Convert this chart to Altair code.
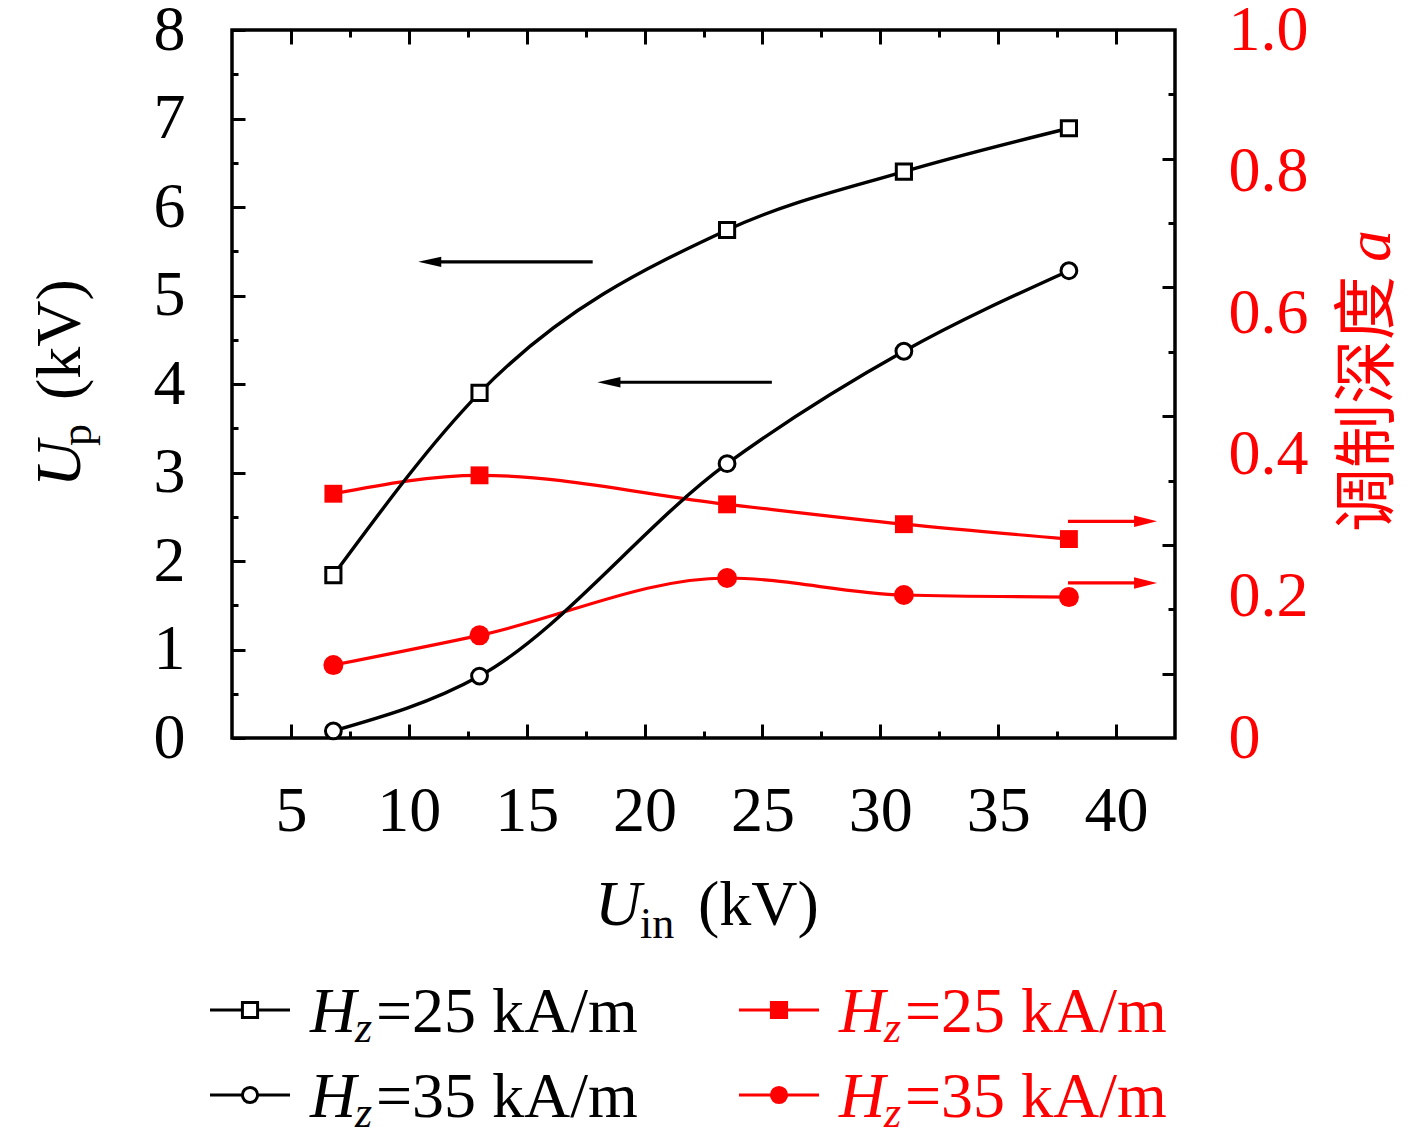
import altair as alt
import pandas as pd

# ---------------- data ----------------
u_in = [6.8, 13.0, 23.5, 31.0, 38.0]                 # U_in (kV)
up_hz25 = [1.84, 3.90, 5.74, 6.40, 6.89]             # U_p (kV), Hz = 25 kA/m
up_hz35 = [0.08, 0.70, 3.10, 4.37, 5.28]             # U_p (kV), Hz = 35 kA/m
depth_hz25 = [0.345, 0.371, 0.330, 0.302, 0.281]     # modulation depth a, Hz = 25
depth_hz35 = [0.103, 0.145, 0.226, 0.202, 0.199]     # modulation depth a, Hz = 35
hz_values = ["25", "35"]
legend_texts = ["=25 kA/m", "=35 kA/m"]

x_tick_values = [5, 7.5, 10, 12.5, 15, 17.5, 20, 22.5, 25, 27.5, 30, 32.5, 35, 37.5, 40]
left_tick_values = [0, 0.5, 1, 1.5, 2, 2.5, 3, 3.5, 4, 4.5, 5, 5.5, 6, 6.5, 7, 7.5, 8]
right_label_values = [0, 0.2, 0.4, 0.6, 0.8, 1.0]
right_tick_values = [0.0909, 0.1818, 0.2727, 0.3636, 0.4545,
                     0.5455, 0.6364, 0.7273, 0.8182, 0.9091]

black_arrow_y = [5.38, 4.02]
black_arrow_tail = [17.8, 25.4]
black_arrow_tip = [10.4, 18.0]
red_arrow_y = [0.306, 0.219]
red_arrow_tail = [37.96, 37.96]
red_arrow_tip = [41.74, 41.74]

# ---------------- tables ----------------
black_df = pd.DataFrame({"u": u_in * 2, "v": up_hz25 + up_hz35,
                         "hz": [hz_values[0]] * 5 + [hz_values[1]] * 5})
red_df = pd.DataFrame({"u": u_in * 2, "v": depth_hz25 + depth_hz35,
                       "hz": [hz_values[0]] * 5 + [hz_values[1]] * 5})
black_arrows = pd.DataFrame({"y": black_arrow_y, "tail": black_arrow_tail, "tip": black_arrow_tip})
red_arrows = pd.DataFrame({"y": red_arrow_y, "tail": red_arrow_tail, "tip": red_arrow_tip})
legend_df = pd.DataFrame({"col": [0, 0, 1, 1], "row": [0, 1, 0, 1],
                          "label": legend_texts * 2})

SERIF = "Liberation Serif"
CJK = "Noto Sans CJK SC"
RED = "#ff0000"
FS = 64
SUB = 44

bottom_axis = alt.Axis(values=x_tick_values, orient="bottom", domain=False, grid=False,
                       tickColor="black", tickWidth=3,
                       tickSize=alt.ExprRef(expr="datum.value % 5 === 0 ? -14 : -7"),
                       labelExpr="datum.value % 5 === 0 ? format(datum.value, 'd') : ''",
                       labelFont=SERIF, labelFontSize=FS, labelColor="black",
                       labelPadding=55, labelFlush=False, labelOverlap=False, title=None)
left_axis = alt.Axis(values=left_tick_values, orient="left", domain=False, grid=False,
                     tickColor="black", tickWidth=3,
                     tickSize=alt.ExprRef(expr="datum.value % 1 === 0 ? -13 : -6"),
                     labelExpr="datum.value % 1 === 0 ? format(datum.value, 'd') : ''",
                     labelFont=SERIF, labelFontSize=FS, labelColor="black",
                     labelPadding=60, labelFlush=False, labelOverlap=False, title=None)
right_axis = alt.Axis(values=right_label_values, orient="right", domain=False, grid=False,
                      ticks=False,
                      labelExpr="datum.value === 0 ? '0' : format(datum.value, '.1f')",
                      labelFont=SERIF, labelFontSize=FS, labelColor=RED,
                      labelPadding=53, labelFlush=False, labelOverlap=False, title=None)
right_tick_axis = alt.Axis(values=right_tick_values, orient="right", domain=False, grid=False,
                           labels=False, tickColor="black", tickWidth=3,
                           tickSize=alt.ExprRef(expr="round(datum.value * 11) % 2 === 1 ? -13 : -7"),
                           title=None)
top_axis = alt.Axis(values=x_tick_values, orient="top", domain=False, grid=False,
                    labels=False, tickColor="black", tickWidth=3,
                    tickSize=alt.ExprRef(expr="datum.value % 5 === 0 ? -14 : -7"),
                    title=None)


def xq(field, axis=None):
    return alt.X(f"{field}:Q", scale=alt.Scale(domain=[2.5, 42.5], nice=False, zero=False), axis=axis)


def yl(field, axis=None):
    return alt.Y(f"{field}:Q", scale=alt.Scale(domain=[0, 8], nice=False, zero=False), axis=axis)


def yr(field, axis=None):
    return alt.Y(f"{field}:Q", scale=alt.Scale(domain=[0, 1], nice=False, zero=False), axis=axis)


is25 = "datum.hz == '25'"

# ---------------- black series (left axis) ----------------
b_lines = alt.Chart(black_df).mark_line(interpolate="monotone", color="black", strokeWidth=3.4).encode(
    x=xq("u", bottom_axis), y=yl("v", left_axis), detail="hz:N")
b_points = alt.Chart(black_df).mark_point(filled=True, fill="white", stroke="black",
                                          strokeWidth=3, opacity=1).encode(
    x=xq("u", bottom_axis), y=yl("v", left_axis),
    shape=alt.condition(is25, alt.value("square"), alt.value("circle")),
    size=alt.condition(is25, alt.value(230), alt.value(250)))
b_arrow_lines = alt.Chart(black_arrows).mark_rule(color="black", strokeWidth=3.2, x2Offset=10).encode(
    x=xq("tail", bottom_axis), x2=alt.X2("tip:Q"), y=yl("y", left_axis))
b_arrow_heads = alt.Chart(black_arrows).mark_point(shape="M-1,0L1,-0.45L1,0.45Z", filled=True,
                                                   color="black", opacity=1, size=530,
                                                   xOffset=11.5).encode(
    x=xq("tip", bottom_axis), y=yl("y", left_axis))
black_group = alt.layer(b_lines, b_arrow_lines, b_arrow_heads, b_points)

# ---------------- red series (right axis) ----------------
r_lines = alt.Chart(red_df).mark_line(interpolate="monotone", color=RED, strokeWidth=3.2).encode(
    x=xq("u"), y=yr("v", right_axis), detail="hz:N")
r_points = alt.Chart(red_df).mark_point(filled=True, color=RED, opacity=1).encode(
    x=xq("u"), y=yr("v", right_axis),
    shape=alt.condition(is25, alt.value("square"), alt.value("circle")),
    size=alt.condition(is25, alt.value(320), alt.value(400)))
r_arrow_lines = alt.Chart(red_arrows).mark_rule(color=RED, strokeWidth=3.2, x2Offset=-10).encode(
    x=xq("tail"), x2=alt.X2("tip:Q"), y=yr("y", right_axis))
r_arrow_heads = alt.Chart(red_arrows).mark_point(shape="M1,0L-1,-0.5L-1,0.5Z", filled=True,
                                                 color=RED, opacity=1, size=530,
                                                 xOffset=-11.5).encode(
    x=xq("tip"), y=yr("y", right_axis))
red_group = alt.layer(r_lines, r_arrow_lines, r_arrow_heads, r_points)

# ---------------- mirror ticks (top and right frame) ----------------
tick_layer = alt.Chart(red_df).mark_point(opacity=0).encode(
    x=xq("u", top_axis), y=yr("v", right_tick_axis))

# ---------------- legend ----------------
lx = alt.X("col:Q", scale=alt.Scale(domain=[0, 1], range=[-22, 507], nice=False, zero=False), axis=None)
ly = alt.Y("row:Q", scale=alt.Scale(domain=[0, 1], range=[980, 1065], nice=False, zero=False), axis=None)
lcolor = alt.condition("datum.col == 1", alt.value(RED), alt.value("black"))
leg_base = alt.Chart(legend_df)
leg_lines = leg_base.mark_rule(strokeWidth=3.2, x2Offset=80).encode(
    x=lx, x2=alt.X2("col:Q"), y=ly, color=lcolor)
leg_points = leg_base.mark_point(filled=True, strokeWidth=3, opacity=1, xOffset=40).encode(
    x=lx, y=ly,
    shape=alt.condition("datum.row == 0", alt.value("square"), alt.value("circle")),
    fill=alt.condition("datum.col == 1", alt.value(RED), alt.value("white")),
    stroke=lcolor,
    size=alt.value(230))
leg_h = leg_base.mark_text(text="H", font=SERIF, fontStyle="italic", fontSize=FS, align="left",
                           baseline="alphabetic", dx=100, dy=22).encode(x=lx, y=ly, color=lcolor)
leg_z = leg_base.mark_text(text="z", font=SERIF, fontStyle="italic", fontSize=SUB, align="left",
                           baseline="alphabetic", dx=145, dy=32).encode(x=lx, y=ly, color=lcolor)
leg_t = leg_base.mark_text(font=SERIF, fontSize=FS, align="left", baseline="alphabetic",
                           dx=166, dy=22).encode(x=lx, y=ly, color=lcolor, text="label:N")
legend_group = alt.layer(leg_lines, leg_points, leg_h, leg_z, leg_t)

# ---------------- axis titles ----------------
one = alt.Data(values=[{}])


def label(text, x, y, size=FS, italic=False, angle=0, color="black", font=SERIF):
    kw = dict(text=text, font=font, fontSize=size, align="left", baseline="alphabetic",
              color=color, angle=angle)
    if italic:
        kw["fontStyle"] = "italic"
    return alt.Chart(one).mark_text(**kw).encode(x=alt.value(x), y=alt.value(y))


titles = [
    label("U", 363, 895, italic=True),
    label("in", 408, 908, size=SUB),
    label("(kV)", 466, 895),
    label("U", -152, 457, italic=True, angle=270),
    label("p", -141, 416, size=SUB, angle=270),
    label("(kV)", -152, 370, angle=270),
    label("调制深度", 1156, 502, angle=270, color=RED, font=CJK),
    label("a", 1158, 232, italic=True, angle=270, color=RED),
]

chart = alt.layer(red_group, black_group, tick_layer, legend_group, *titles).resolve_scale(
    x="independent", y="independent"
).properties(
    width=943, height=708,
    background="white",
    autosize=alt.AutoSizeParams(type="none"),
    padding={"left": 224, "top": 22, "right": 232, "bottom": 400},
).configure_view(stroke="black", strokeWidth=3.5)

chart.save("out.html", embed_options={"renderer": "svg", "actions": False})
